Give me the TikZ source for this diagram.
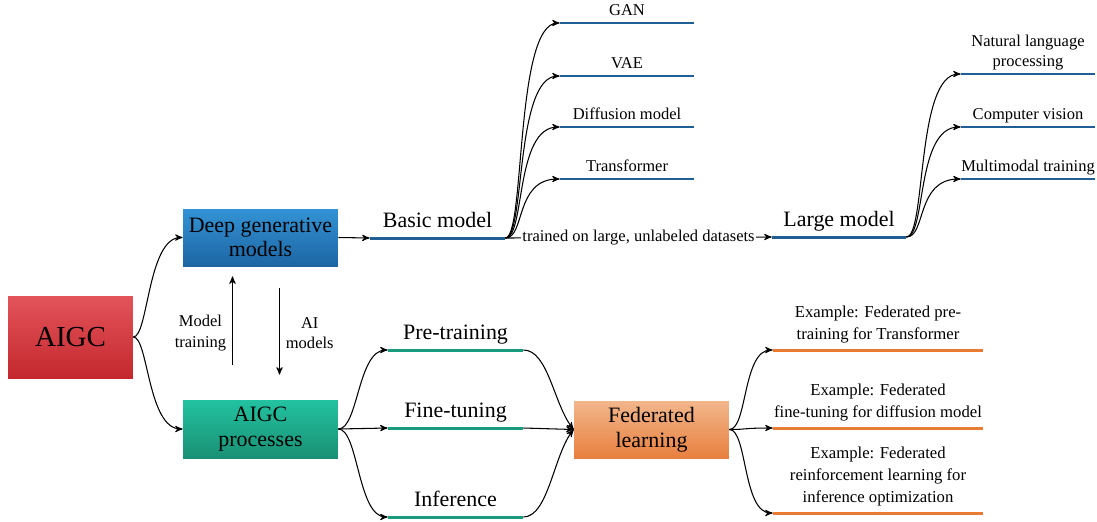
\documentclass[tikz,border=0pt]{standalone}
\usepackage{fontspec}
\setmainfont{Liberation Serif}
\usetikzlibrary{arrows,positioning}
\tikzset{
	>=stealth',
}
\definecolor{redtop}{HTML}{E2545A}
\definecolor{redbot}{HTML}{C4282E}
\definecolor{bluetop}{HTML}{3393D4}
\definecolor{bluebot}{HTML}{1D65A3}
\definecolor{tealtop}{HTML}{22C2A0}
\definecolor{tealbot}{HTML}{1A9074}
\definecolor{orangetop}{HTML}{F2B68B}
\definecolor{orangebot}{HTML}{E8803F}
\definecolor{blueline}{HTML}{1F5F96}
\definecolor{tealline}{HTML}{1A9B80}
\definecolor{orangeline}{HTML}{E97B32}

\begin{document}
\begin{tikzpicture}[x=0.02cm, y=-0.02cm,
	box/.style = {align=center, minimum width=3.1cm, minimum height=1.14cm, inner sep=0, font=\fontsize{12.5}{14}\selectfont},
	leaf/.style = {anchor=south, align=center, inner xsep=0, inner ysep=2pt, text depth=2pt, minimum width=2.68cm, font=\fontsize{9.4}{11.5}\selectfont},
	stem/.style = {leaf, inner ysep=3.7pt, minimum width=2.7cm, font=\fontsize{12.5}{14}\selectfont},
	example/.style = {leaf, inner ysep=4pt, minimum width=4.2cm, font=\fontsize{9.5}{12.5}\selectfont},
	small/.style = {align=center, font=\fontsize{9.4}{11.5}\selectfont},
	link/.style = {->, line width=0.6pt}]
\useasboundingbox (0,0) rectangle (1097,521);
% boxes
\node[box, minimum width=2.5cm, minimum height=1.64cm, top color=redtop, bottom color=redbot, font=\fontsize{16.5}{18}\selectfont] (aigc) at (70.5,337) {AIGC};
\node[box, top color=bluetop, bottom color=bluebot] (deep) at (260.5,237.5) {Deep generative\\models};
\node[box, minimum height=1.16cm, top color=tealtop, bottom color=tealbot] (proc) at (260.5,429) {AIGC\\processes};
\node[box, top color=orangetop, bottom color=orangebot] (fed) at (651.5,429.5) {Federated\\learning};
% underlined items
\node[stem] (basic) at (437.5,238) {Basic model};
\node[leaf] (gan) at (627,23) {GAN};
\node[leaf] (vae) at (627,76) {VAE};
\node[leaf] (diff) at (627,127) {Diffusion model};
\node[leaf] (trans) at (627,179) {Transformer};
\node[stem, minimum width=2.68cm] (large) at (839,237) {Large model};
\node[leaf] (nlp) at (1028,74) {Natural language\\processing};
\node[leaf] (cv) at (1028,127) {Computer vision};
\node[leaf] (mm) at (1028,179) {Multimodal training};
\node[stem] (pre) at (455.5,350) {Pre-training};
\node[stem] (fine) at (455.5,428) {Fine-tuning};
\node[stem] (inf) at (455.5,517) {Inference};
\node[example] (ex1) at (878,350) {Example: Federated pre-\\training for Transformer};
\node[example] (ex2) at (878,428) {Example: Federated\\fine-tuning for diffusion model};
\node[example] (ex3) at (878,513) {Example: Federated\\reinforcement learning for\\inference optimization};
\foreach \n in {basic,gan,vae,diff,trans,large,nlp,cv,mm}
	\draw[blueline, line width=1.7pt] (\n.south west) -- (\n.south east);
\foreach \n in {pre,fine,inf}
	\draw[tealline, line width=1.7pt] (\n.south west) -- (\n.south east);
\foreach \n in {ex1,ex2,ex3}
	\draw[orangeline, line width=1.7pt] (\n.south west) -- (\n.south east);
% connectors
\draw[link] (aigc.east) .. controls +(15,0) and +(-35,0) .. (deep.west);
\draw[link] (aigc.east) .. controls +(15,0) and +(-35,0) .. (proc.west);
\draw[link] (deep.east) -- (basic.south west);
\foreach \n in {gan,vae,diff,trans}
	\draw[link] (basic.south east) .. controls +(20,0) and +(-45,0) .. (\n.south west);
\draw[link] (basic.south east) -- node[fill=white, inner sep=1pt, small] {trained on large, unlabeled datasets} (large.south west);
\foreach \n in {nlp,cv,mm}
	\draw[link] (large.south east) .. controls +(20,0) and +(-45,0) .. (\n.south west);
\draw[link, shorten <=0.7cm, shorten >=0.2cm] ([xshift=-0.56cm]proc.north) -- node[left, small] {Model\\training} ([xshift=-0.56cm]deep.south);
\draw[link, shorten <=0.44cm, shorten >=0.5cm] ([xshift=0.38cm]deep.south) -- node[right, small] {AI\\models} ([xshift=0.38cm]proc.north);
\draw[link] (proc.east) .. controls +(20,0) and +(-30,0) .. (pre.south west);
\draw[link] (proc.east) -- (fine.south west);
\draw[link] (proc.east) .. controls +(20,0) and +(-30,0) .. (inf.south west);
\draw[link] (pre.south east) .. controls +(25,0) and +(-20,-25) .. (fed.west);
\draw[link] (fine.south east) -- (fed.west);
\draw[link] (inf.south east) .. controls +(25,0) and +(-20,25) .. (fed.west);
\foreach \n in {ex1,ex2,ex3}
	\draw[link] (fed.east) .. controls +(18,0) and +(-30,0) .. (\n.south west);
\end{tikzpicture}
\end{document}
